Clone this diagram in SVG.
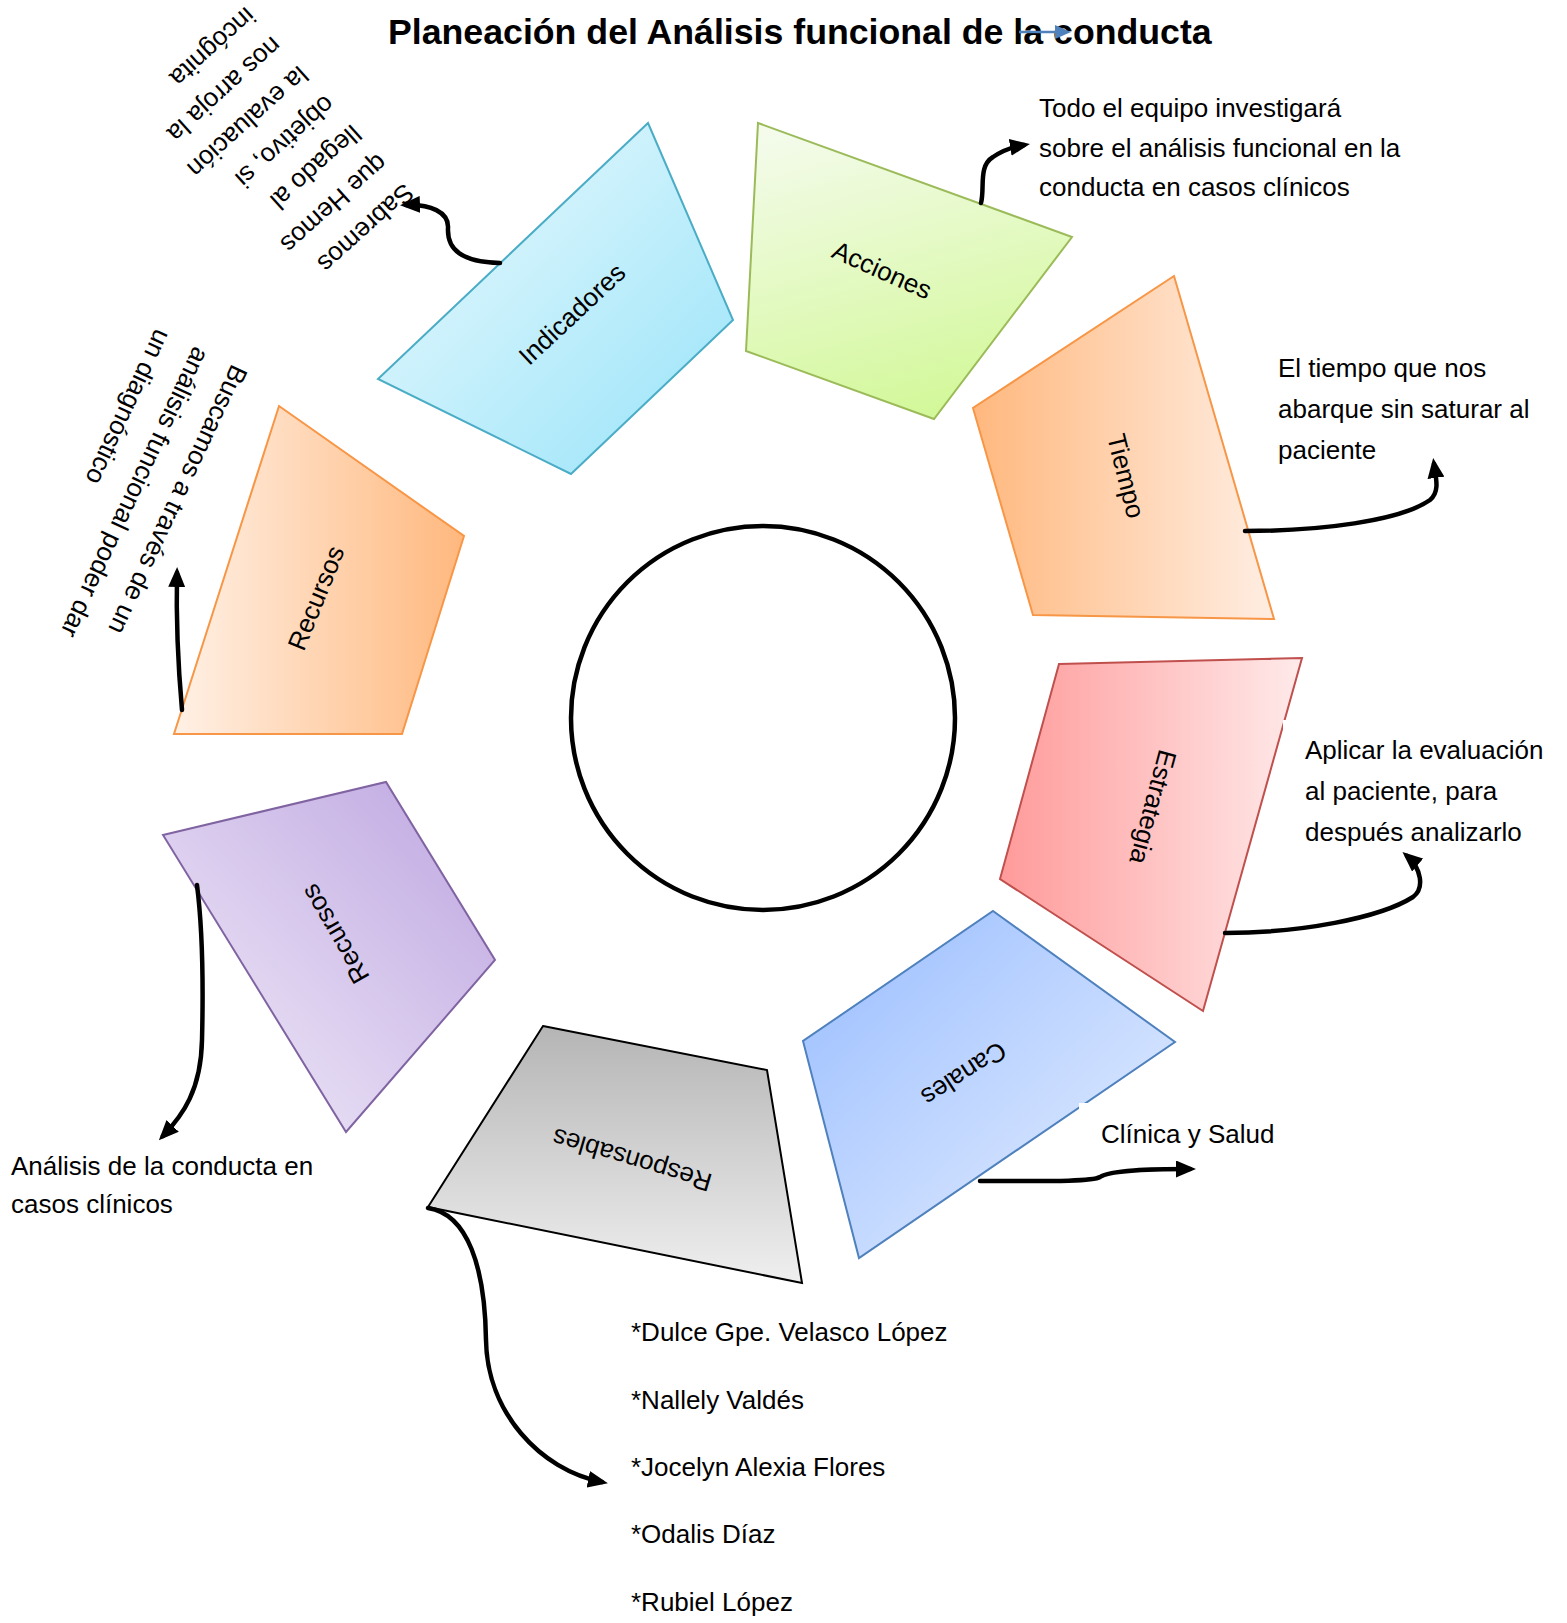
<svg xmlns="http://www.w3.org/2000/svg" width="1567" height="1623" viewBox="0 0 1567 1623">
<style>
.t{font-family:"Liberation Sans",Arial,sans-serif;font-size:26px;fill:#000}
.lab{font-family:"Liberation Sans",Arial,sans-serif;font-size:26px;fill:#000;text-anchor:middle}
.title{font-family:"Liberation Sans",Arial,sans-serif;font-size:35.7px;font-weight:bold;fill:#000}
.shape{stroke-width:2;stroke-linejoin:miter}
.con{fill:none;stroke:#000;stroke-width:4.5;stroke-linecap:round;marker-end:url(#ah)}
</style>
<defs>
<marker id="ah" markerUnits="userSpaceOnUse" viewBox="0 0 20 17" markerWidth="20" markerHeight="17" refX="14" refY="8.5" orient="auto">
<path d="M0,0 L20,8.5 L0,17 z" fill="#000"/>
</marker>
<linearGradient id="gInd" x1="0" y1="0" x2="1" y2="1"><stop offset="0" stop-color="#effbfe"/><stop offset="1" stop-color="#97e3f9"/></linearGradient>
<linearGradient id="gAcc" x1="0.2" y1="0" x2="0.5" y2="1"><stop offset="0" stop-color="#f4fbeb"/><stop offset="1" stop-color="#d3f89a"/></linearGradient>
<linearGradient id="gTie" x1="0" y1="0" x2="1" y2="0"><stop offset="0" stop-color="#ffb87e"/><stop offset="1" stop-color="#ffeee3"/></linearGradient>
<linearGradient id="gEst" x1="0" y1="0" x2="1" y2="0"><stop offset="0" stop-color="#ff9a9a"/><stop offset="1" stop-color="#ffeaea"/></linearGradient>
<linearGradient id="gCan" x1="0" y1="0" x2="1" y2="1"><stop offset="0" stop-color="#98bcff"/><stop offset="1" stop-color="#e9f1ff"/></linearGradient>
<linearGradient id="gRes" x1="0" y1="0" x2="0" y2="1"><stop offset="0" stop-color="#b5b5b5"/><stop offset="1" stop-color="#efefef"/></linearGradient>
<linearGradient id="gRec" x1="0" y1="0" x2="1" y2="0"><stop offset="0" stop-color="#fff1e6"/><stop offset="1" stop-color="#ffb87e"/></linearGradient>
<linearGradient id="gPur" x1="0" y1="1" x2="1" y2="0"><stop offset="0" stop-color="#f3eefa"/><stop offset="1" stop-color="#bda5e0"/></linearGradient>
</defs>
<rect x="0" y="0" width="1567" height="1623" fill="#fff"/>

<g id="title">
<text class="title" x="388" y="44">Planeación del Análisis funcional de la conducta</text>
</g>

<g id="centro">
<circle cx="763" cy="718" r="192" fill="#fff" stroke="#000" stroke-width="4.5"/>
</g>

<g id="node-indicadores">
<polygon class="shape" points="648,123 733,320 571,474 378,379" fill="url(#gInd)" stroke="#4bacc6"/>
<text class="lab" transform="translate(572,314) rotate(-43)" x="0" y="9">Indicadores</text>
</g>

<g id="node-acciones">
<polygon class="shape" points="758,123 1072,237 934,419 746,351" fill="url(#gAcc)" stroke="#9bbb59"/>
<text class="lab" transform="translate(882,270) rotate(24)" x="0" y="9">Acciones</text>
</g>

<g id="node-tiempo">
<polygon class="shape" points="1174,276 1274,619 1033,615 973,408" fill="url(#gTie)" stroke="#f79646"/>
<text class="lab" transform="translate(1126,476) rotate(76)" x="0" y="9">Tiempo</text>
</g>

<g id="node-estrategia">
<polygon class="shape" points="1059,664 1302,658 1203,1011 1000,879" fill="url(#gEst)" stroke="#c0504d"/>
<text class="lab" transform="translate(1153,807) rotate(105)" x="0" y="9">Estrategia</text>
</g>

<g id="node-canales">
<polygon class="shape" points="993,911 1175,1042 859,1258 803,1041" fill="url(#gCan)" stroke="#4f81bd"/>
<text class="lab" transform="translate(964,1074) rotate(147)" x="0" y="9">Canales</text>
</g>

<g id="node-responsables">
<polygon class="shape" points="543,1026 767,1070 802,1283 428,1207" fill="url(#gRes)" stroke="#000" stroke-width="1.5"/>
<text class="lab" transform="translate(632,1160) rotate(196.5)" x="0" y="9">Responsables</text>
</g>

<g id="node-recursos-1">
<polygon class="shape" points="279,406 464,536 402,734 174,734" fill="url(#gRec)" stroke="#f79646"/>
<text class="lab" transform="translate(316,598) rotate(-68)" x="0" y="9">Recursos</text>
</g>

<g id="node-recursos-2">
<polygon class="shape" points="163,835 386,782 495,960 346,1132" fill="url(#gPur)" stroke="#8064a2"/>
<text class="lab" transform="translate(335,934) rotate(-120)" x="0" y="9">Recursos</text>
</g>

<g id="note-indicadores">
<text class="t" transform="translate(404,182) rotate(138)">
<tspan x="0" y="0">Sabremos</tspan>
<tspan x="0" dy="39.5">que Hemos</tspan>
<tspan x="0" dy="39.5">llegado al</tspan>
<tspan x="0" dy="39.5">objetivo, si</tspan>
<tspan x="0" dy="39.5">la evaluación</tspan>
<tspan x="0" dy="39.5">nos arroja la</tspan>
<tspan x="0" dy="39.5">incógnita</tspan>
</text>
</g>

<g id="note-recursos-1">
<text class="t" transform="translate(232,363) rotate(115)">
<tspan x="0" y="0">Buscamos a través de un</tspan>
<tspan x="0" dy="42">análisis funcional poder dar</tspan>
<tspan x="0" dy="42">un diagnóstico</tspan>
</text>
</g>

<g id="note-acciones">
<text class="t"><tspan x="1039" y="117">Todo el equipo investigará</tspan><tspan x="1039" y="157">sobre el análisis funcional en la</tspan><tspan x="1039" y="196">conducta en casos clínicos</tspan></text>
</g>

<g id="note-tiempo">
<text class="t"><tspan x="1278" y="377">El tiempo que nos</tspan><tspan x="1278" y="418">abarque sin saturar al</tspan><tspan x="1278" y="459">paciente</tspan></text>
</g>

<g id="note-estrategia">
<rect x="1283" y="720" width="284" height="128" fill="#fff"/>
<text class="t"><tspan x="1305" y="759">Aplicar la evaluación</tspan><tspan x="1305" y="800">al paciente, para</tspan><tspan x="1305" y="841">después analizarlo</tspan></text>
</g>

<g id="note-canales">
<rect x="1079" y="1103" width="200" height="56" fill="#fff"/>
<text class="t" x="1101" y="1143">Clínica y Salud</text>
</g>

<g id="note-recursos-2">
<text class="t"><tspan x="11" y="1175">Análisis de la conducta en</tspan><tspan x="11" y="1213">casos clínicos</tspan></text>
</g>

<g id="note-responsables">
<text class="t" x="631" y="1341">*Dulce Gpe. Velasco López</text>
<text class="t" x="631" y="1409">*Nallely Valdés</text>
<text class="t" x="631" y="1476">*Jocelyn Alexia Flores</text>
<text class="t" x="631" y="1543">*Odalis Díaz</text>
<text class="t" x="631" y="1611">*Rubiel López</text>
</g>

<g id="connectors">
<path class="con" d="M500,263 C462,262 447,250 448,228 C449,212 430,204 406,205"/>
<path class="con" d="M981,203 C985,188 978,166 993,157 C1003,150 1012,147 1024,145"/>
<path class="con" d="M1245,531 C1320,531 1400,521 1430,500 C1440,492 1436,478 1434,464"/>
<path class="con" d="M1225,933 C1300,933 1380,918 1413,897 C1425,888 1421,868 1407,856"/>
<path class="con" d="M980,1181 C1040,1181 1092,1182 1100,1177 C1110,1170 1150,1169 1190,1169"/>
<path class="con" d="M428,1208 C468,1214 485,1268 486,1340 C487,1412 540,1470 602,1482"/>
<path class="con" d="M182,710 C178,665 176,620 177,573"/>
<path class="con" d="M197,885 C204,940 203,1000 202,1040 C201,1090 183,1115 163,1136"/>
<line x1="1019" y1="32" x2="1057" y2="32" stroke="#4f81bd" stroke-width="2.5"/>
<polygon points="1055,25 1071,32 1055,39" fill="#4f81bd"/>
</g>
</svg>
